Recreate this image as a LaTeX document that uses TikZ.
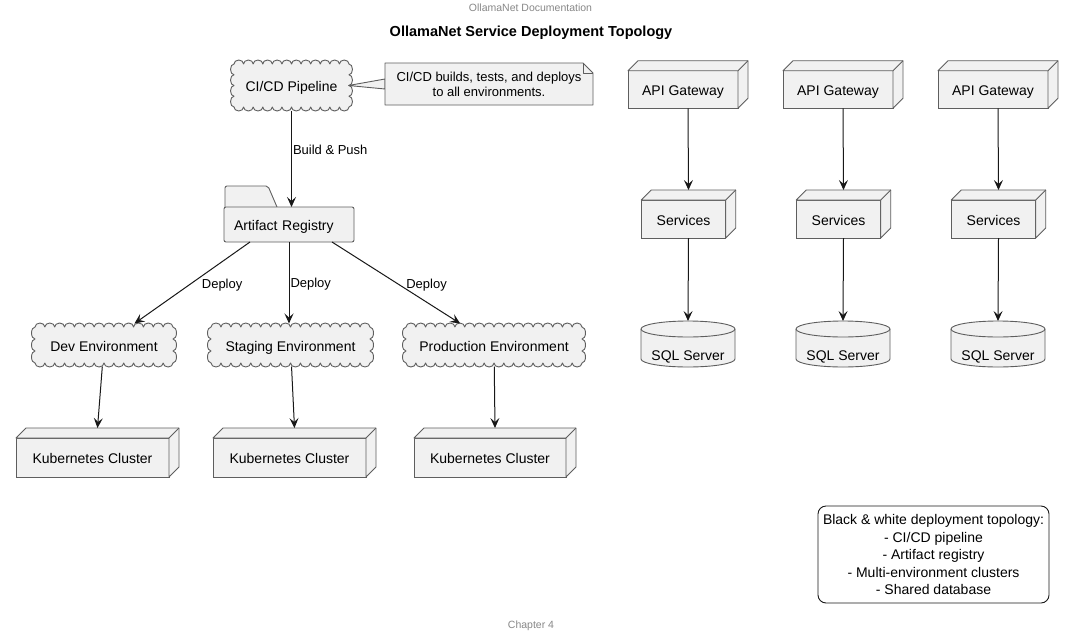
\documentclass[tikz,border=0pt]{standalone}
\usepackage{fontspec}
\setmainfont{Liberation Sans}
\usetikzlibrary{arrows.meta,calc,backgrounds}
\definecolor{nodefill}{HTML}{F1F1F1}
\definecolor{nodeline}{HTML}{5E5E5E}
\definecolor{arrowcol}{HTML}{181818}
\definecolor{headgray}{HTML}{888888}
\tikzset{
 base/.style={font=\fontsize{14}{16.8}\selectfont, text=black, text height=12pt, text depth=0pt},
 cloudbox/.style={base, rectangle, inner sep=0pt, outer sep=3.5pt},
 cube/.style={base, draw=nodeline, fill=nodefill, line width=0.9pt, rectangle, inner sep=0pt, outer sep=0pt},
 face/.style={draw=nodeline, fill=nodefill, line width=0.9pt, line join=round},
 folderbox/.style={base, draw=nodeline, fill=nodefill, line width=0.9pt, rectangle, rounded corners=2pt, inner xsep=10pt, inner ysep=0pt, text width=110pt, align=left, minimum height=35pt, outer sep=0pt},
 dbnode/.style={base, inner sep=0pt, outer sep=0pt, text height=32pt, text depth=0pt, minimum width=94pt, minimum height=46pt},
 notetext/.style={font=\fontsize{13}{14.5}\selectfont, inner sep=0pt, outer sep=0pt, minimum width=208pt, minimum height=42pt},
 arr/.style={draw=arrowcol, line width=1pt, -{Stealth[length=10pt, width=9pt, inset=4pt]}},
 elabel/.style={font=\fontsize{13}{15}\selectfont, inner sep=1pt, anchor=west, text=black},
 legendbox/.style={font=\fontsize{14}{17.5}\selectfont, draw=arrowcol, fill=white, line width=0.9pt, rounded corners=8pt, align=center, minimum width=231pt, minimum height=97pt, inner sep=0pt},
 hdr/.style={font=\fontsize{10.5}{12}\selectfont, text=headgray},
 titletext/.style={font=\fontsize{14.5}{16}\selectfont\bfseries},
}
% scalloped cloud outline around node #1 whose inner rectangle is #2 x #3 (pt)
\newcommand{\scallop}[3]{%
  \pgfmathtruncatemacro{\cnx}{round(#2/10)}%
  \pgfmathsetmacro{\csx}{#2/\cnx}%
  \pgfmathtruncatemacro{\cny}{max(2,round(#3/12))}%
  \pgfmathsetmacro{\csy}{#3/\cny}%
  \draw[face] ([xshift={-#2*0.5pt}, yshift={#3*0.5pt}]#1.center)
    \foreach \k in {1,...,\cnx}{ arc[start angle=180, end angle=0, x radius={\csx*0.5pt}, y radius=4pt] }
    \foreach \k in {1,...,\cny}{ arc[start angle=90, end angle=-90, x radius=3.5pt, y radius={\csy*0.5pt}] }
    \foreach \k in {1,...,\cnx}{ arc[start angle=0, end angle=-180, x radius={\csx*0.5pt}, y radius=4pt] }
    \foreach \k in {1,...,\cny}{ arc[start angle=270, end angle=90, x radius=3.5pt, y radius={\csy*0.5pt}] }
    -- cycle;%
}
\begin{document}
\begin{tikzpicture}[x=1pt,y=-1pt]
\useasboundingbox (0,0) rectangle (1074,635);

% header, title, footer
\node[hdr] (hdr) at (530.5,8) {OllamaNet Documentation};
\node[titletext] (title) at (531,33) {OllamaNet Service Deployment Topology};
\node[hdr] (foot) at (531,625.5) {Chapter 4};

% left pipeline
\node[cloudbox, minimum width=115pt, minimum height=43pt] (ci) at (291.5,85.5) {CI/CD Pipeline};
\node[notetext] (note) at (489,84) {\raisebox{-2pt}[\height][\depth]{\begin{tabular}{@{}c@{}}CI/CD builds, tests, and deploys\\to all environments.\end{tabular}}};
\node[folderbox] (reg) at (289,224.5) {Artifact Registry};

\node[cloudbox, minimum width=138pt, minimum height=36pt] (dev) at (104,345) {Dev Environment};
\node[cloudbox, minimum width=159pt, minimum height=36pt] (stag) at (290.5,345) {Staging Environment};
\node[cloudbox, minimum width=176pt, minimum height=36pt] (prod) at (494,345) {Production Environment};

\node[cube, minimum width=153pt, minimum height=39pt] (k1) at (92.5,457.5) {Kubernetes Cluster};
\node[cube, minimum width=153pt, minimum height=39pt] (k2) at (289.5,457.5) {Kubernetes Cluster};
\node[cube, minimum width=152pt, minimum height=39pt] (k3) at (490,457.5) {Kubernetes Cluster};

% right stacks
\node[cube, minimum width=110pt, minimum height=37.5pt] (api1) at (683,89.5) {API Gateway};
\node[cube, minimum width=110pt, minimum height=37.5pt] (api2) at (838,89.5) {API Gateway};
\node[cube, minimum width=110pt, minimum height=37.5pt] (api3) at (993,89.5) {API Gateway};

\node[cube, minimum width=84.5pt, minimum height=38pt] (svc1) at (683.5,219) {Services};
\node[cube, minimum width=84.5pt, minimum height=38pt] (svc2) at (838.5,219) {Services};
\node[cube, minimum width=84.5pt, minimum height=38pt] (svc3) at (993.5,219) {Services};

\node[dbnode] (sql1) at (688,344) {SQL Server};
\node[dbnode] (sql2) at (843,344) {SQL Server};
\node[dbnode] (sql3) at (998,344) {SQL Server};

% legend
\node[legendbox] (legend) at (933.5,554.5) {Black \& white deployment topology:\\- CI/CD pipeline\\- Artifact registry\\- Multi-environment clusters\\- Shared database};

% 3D faces of node boxes
\foreach \n in {k1,k2,k3,api1,api2,api3,svc1,svc2,svc3}{
  \draw[face] (\n.north west) -- ++(10pt,10pt) -- ($(\n.north east)+(10pt,10pt)$)
     -- ($(\n.south east)+(10pt,10pt)$) -- (\n.south east) -- (\n.north east) -- cycle;
  \draw[face, fill=none] (\n.north east) -- ++(10pt,10pt);
}

\begin{scope}[on background layer]
  \fill[white] (0,0) rectangle (1074,635);
  % clouds
  \scallop{ci}{115}{43}
  \scallop{dev}{138}{36}
  \scallop{stag}{159}{36}
  \scallop{prod}{176}{36}
  % database cylinders
  \foreach \n in {sql1,sql2,sql3}{
    \draw[face] ([yshift=-8pt]\n.north west) -- ([yshift=8pt]\n.south west)
       arc[start angle=180, end angle=360, x radius=47pt, y radius=8pt]
       -- ([yshift=-8pt]\n.north east)
       arc[start angle=0, end angle=180, x radius=47pt, y radius=8pt] -- cycle;
    \draw[face, fill=none] ([yshift=-8pt]\n.north west)
       arc[start angle=180, end angle=360, x radius=47pt, y radius=8pt];
  }
  % folder tab
  \draw[face, rounded corners=2pt] ([xshift=1pt]reg.north west) -- ++(0pt,21pt) -- ++(43pt,0pt) -- ++(9pt,-21pt);
  % note connector
  \draw[face] ([xshift=-4pt]ci.east) -- ([yshift=5pt]note.west) -- ([yshift=-5pt]note.west) -- cycle;
  % note with folded corner
  \draw[face] (note.north west) -- ([xshift=-10pt]note.north east) -- ([yshift=-10pt]note.north east)
     -- (note.south east) -- (note.south west) -- cycle;
  \draw[face, fill=none] ([xshift=-10pt]note.north east) -- ++(0pt,-10pt) -- ++(10pt,0pt);
\end{scope}

% connectors
\draw[arr] (ci.south) -- (ci.south |- reg.north) node[elabel, pos=0.41] {Build \& Push};
\draw[arr] ([xshift=-39pt]reg.south) -- (dev) node[elabel, pos=0.49, xshift=7pt, yshift=-3pt] {Deploy};
\draw[arr] (reg.south) -- (reg.south |- stag.north) node[elabel, pos=0.5, yshift=-1pt] {Deploy};
\draw[arr] ([xshift=43pt]reg.south) -- (prod) node[elabel, pos=0.49, xshift=10pt, yshift=-3pt] {Deploy};

\draw[arr] (dev) -- ([xshift=5pt,yshift=10pt]k1.north);
\draw[arr] (stag) -- ([xshift=5pt,yshift=10pt]k2.north);
\draw[arr] (prod) -- ([xshift=5pt,yshift=10pt]k3.north);

\foreach \i in {1,2,3}{
  \draw[arr] ([xshift=5pt]api\i.south) -- ([xshift=5pt,yshift=10pt]svc\i.north);
  \draw[arr] ([xshift=5pt]svc\i.south) -- (sql\i.north);
}
\end{tikzpicture}
\end{document}
